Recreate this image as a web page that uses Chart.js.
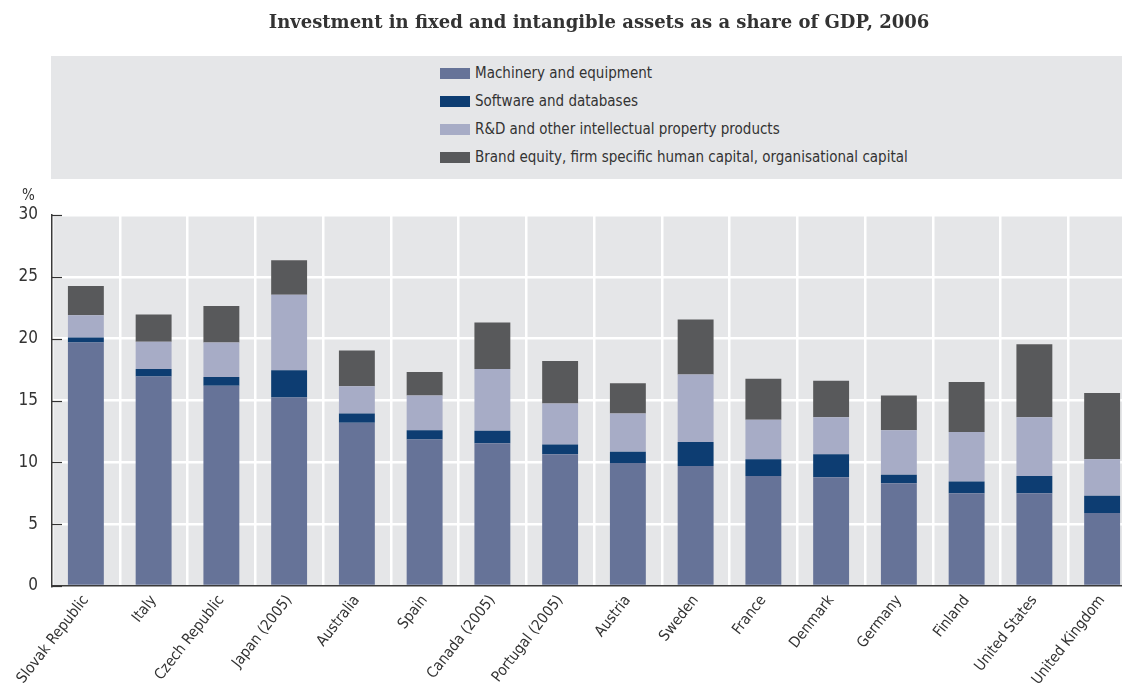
<!DOCTYPE html>
<html>
<head>
<meta charset="utf-8">
<script src="https://cdn.jsdelivr.net/npm/chart.js@4.4.1/dist/chart.umd.min.js"></script>
<style>
  html, body { margin: 0; padding: 0; background: #fff; overflow: hidden; }
  #wrap { position: relative; width: 1140px; height: 690px; }
  #title {
    position: absolute; left: 0; top: 11px; width: 1198px; text-align: center;
    font-family: "DejaVu Serif", serif; font-weight: bold; font-size: 18px; color: #333;
  }
  #legend {
    position: absolute; left: 51px; top: 56px; width: 1089px; height: 123px; background: #e5e6e8;
  }
  .item { position: absolute; left: 389px; height: 20px; line-height: 20px;
    font-family: "Liberation Sans Narrow", "DejaVu Sans Condensed", sans-serif; font-size: 15px; color: #333; }
  .item span { display: inline-block; width: 30px; height: 11px; margin-right: 5px; vertical-align: -1px; }
  #pct { position: absolute; left: 22px; top: 186px; font-family: "Liberation Sans Narrow", "DejaVu Sans Condensed", sans-serif; font-size: 15px; color: #333; }
</style>
</head>
<body>
<div id="wrap">
  <canvas id="chart" width="1140" height="690"></canvas>
  <div id="title">Investment in fixed and intangible assets as a share of GDP, 2006</div>
  <div id="legend"></div>
  <div id="pct">%</div>
</div>
<script>
const countries = ["Slovak Republic", "Italy", "Czech Republic", "Japan (2005)", "Australia", "Spain",
  "Canada (2005)", "Portugal (2005)", "Austria", "Sweden", "France", "Denmark", "Germany", "Finland",
  "United States", "United Kingdom"];

const machinery = [19.7, 16.95, 16.2, 15.25, 13.2, 11.85, 11.55, 10.65, 9.95, 9.7, 8.9, 8.8, 8.3, 7.5, 7.5, 5.9];
const software = [0.4, 0.6, 0.7, 2.2, 0.75, 0.75, 1.0, 0.8, 0.9, 1.95, 1.35, 1.85, 0.7, 0.95, 1.4, 1.4];
const rnd = [1.8, 2.2, 2.8, 6.1, 2.2, 2.8, 5.0, 3.3, 3.1, 5.45, 3.2, 3.0, 3.6, 4.0, 4.75, 2.95];
const brand = [2.35, 2.2, 2.95, 2.8, 2.9, 1.9, 3.75, 3.45, 2.45, 4.45, 3.3, 2.95, 2.8, 4.05, 5.9, 5.35];

const seriesNames = ["Machinery and equipment", "Software and databases",
  "R&D and other intellectual property products",
  "Brand equity, firm specific human capital, organisational capital"];
const colors = ["#667398", "#0d3d72", "#a7acc6", "#58595b"];
const yTicks = [0, 5, 10, 15, 20, 25, 30];

const font = "'Liberation Sans Narrow', 'DejaVu Sans Condensed', sans-serif";

// legend (html)
const leg = document.getElementById("legend");
seriesNames.forEach((n, i) => {
    const d = document.createElement("div");
    d.className = "item";
    d.style.top = (7 + i * 28) + "px";
    d.innerHTML = '<span style="background:' + colors[i] + '"></span>' + n.replace("&", "&amp;");
    leg.appendChild(d);
});

// short ticks drawn inside the plot, on the y axis
const innerTicks = {
    id: "innerTicks",
    afterDatasetsDraw(chart) {
        const ctx = chart.ctx, y = chart.scales.y, a = chart.chartArea;
        ctx.save();
        ctx.strokeStyle = "#333";
        ctx.lineWidth = 1.2;
        yTicks.forEach(v => {
            const py = Math.round(y.getPixelForValue(v)) + 0.5;
            ctx.beginPath();
            ctx.moveTo(a.left, py);
            ctx.lineTo(a.left + 10, py);
            ctx.stroke();
        });
        ctx.restore();
    }
};

const plotBg = {
    id: "plotBg",
    beforeDraw(chart) {
        const ctx = chart.ctx, a = chart.chartArea;
        ctx.save();
        ctx.fillStyle = "#e5e6e8";
        ctx.fillRect(a.left, a.top, a.right - a.left, a.bottom - a.top);
        ctx.restore();
    }
};

new Chart(document.getElementById("chart"), {
    type: "bar",
    data: {
        labels: countries,
        datasets: [machinery, software, rnd, brand].map((d, i) => ({
            label: seriesNames[i],
            data: d,
            backgroundColor: colors[i],
            borderWidth: 0,
            categoryPercentage: 1,
            barPercentage: 0.53
        }))
    },
    options: {
        responsive: false,
        animation: false,
        layout: { padding: { top: 215, right: 4, left: 0, bottom: 0 } },
        plugins: {
            legend: { display: false },
            tooltip: { enabled: false }
        },
        scales: {
            x: {
                stacked: true,
                afterFit: s => { s.height = 104; },
                grid: { color: "#ffffff", lineWidth: 2.5, drawTicks: false, offset: true },
                border: { color: "#3a3a3a", width: 1.5 },
                ticks: {
                    minRotation: 52, maxRotation: 52, padding: 6, autoSkip: false,
                    color: "#333", font: { family: font, size: 15 }
                }
            },
            y: {
                stacked: true,
                min: 0, max: 30,
                afterFit: s => { s.width = 52; },
                grid: { color: "#ffffff", lineWidth: 2.5, drawTicks: false },
                border: { color: "#3a3a3a", width: 1.5 },
                ticks: {
                    stepSize: 5, padding: 14, color: "#333",
                    font: { family: font, size: 17 }
                }
            }
        }
    },
    plugins: [plotBg, innerTicks]
});
</script>
</body>
</html>
